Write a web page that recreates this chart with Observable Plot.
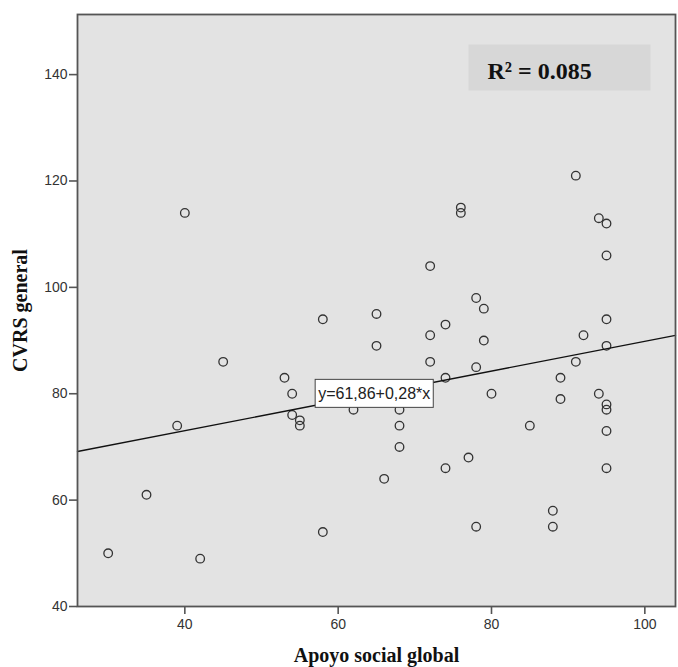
<!DOCTYPE html>
<html><head><meta charset="utf-8">
<script src="https://cdn.jsdelivr.net/npm/d3@7"></script>
<script src="https://cdn.jsdelivr.net/npm/@observablehq/plot@0.6"></script>
<style>body{margin:0;background:#fff} #chart svg{display:block}</style>
</head><body><div id="chart"></div>
<script>
// Data
const apoyoSocial = [30,35,39,40,42,45,53,54,54,55,55,58,58,62,65,65,66,68,68,68,72,72,72,74,74,74,76,76,77,78,78,78,79,79,80,85,88,88,89,89,91,91,92,94,94,95,95,95,95,95,95,95,95];
const cvrsGeneral = [50,61,74,114,49,86,83,80,76,75,74,94,54,77,95,89,64,77,74,70,104,91,86,93,83,66,115,114,68,98,85,55,96,90,80,74,58,55,83,79,121,86,91,113,80,112,106,94,89,78,77,73,66];
const xTicks = [40, 60, 80, 100];
const yTicks = [40, 60, 80, 100, 120, 140];
const xDomain = [26, 104];
const yDomain = [40, 151.3];
const intercept = 61.86;
const slope = 0.28;
const eqLabel = "y=61,86+0,28*x";
const eqAnchor = {x: 57, y: 80};
const r2Label = "R² = 0.085";
const xLabel = "Apoyo social global";
const yLabel = "CVRS general";

const points = apoyoSocial.map((x, i) => ({x, y: cvrsGeneral[i]}));
const regLine = xDomain.map(x => ({x, y: intercept + slope * x}));

const serif = "'Liberation Serif', 'Times New Roman', serif";

const chart = Plot.plot({
  width: 678, height: 667,
  marginLeft: 77, marginTop: 14, marginRight: 3, marginBottom: 61,
  style: {fontFamily: "'Liberation Sans', Arial, sans-serif", fontSize: "14px", color: "#333", background: "#fff"},
  x: {domain: xDomain, label: null},
  y: {domain: yDomain, label: null},
  marks: [
    Plot.frame({fill: "#e3e3e3"}),
    Plot.axisX({ticks: xTicks, tickSize: 8, tickPadding: 5, label: null, stroke: "#555", strokeWidth: 1.6, fill: "#333"}),
    Plot.axisY({ticks: yTicks, tickSize: 8, tickPadding: 2, label: null, stroke: "#555", strokeWidth: 1.6, fill: "#333"}),
    Plot.dot(points, {x: "x", y: "y", r: 4.3, stroke: "#333", strokeWidth: 1.3, fill: "none"}),
    Plot.line(regLine, {x: "x", y: "y", stroke: "#111", strokeWidth: 1.3}),
    Plot.frame({stroke: "#555", strokeWidth: 1.8}),
    Plot.text([eqLabel], {x: () => eqAnchor.x, y: () => eqAnchor.y, text: d => d, textAnchor: "start", lineAnchor: "middle", dx: 3, fontSize: 16, fill: "#222"}),
    Plot.text([r2Label], {frameAnchor: "top-left", text: d => d, dx: 410, dy: 64, textAnchor: "start", lineAnchor: "bottom", fontFamily: serif, fontWeight: "bold", fontSize: 24, fill: "#111"}),
    Plot.text([xLabel], {frameAnchor: "bottom", text: d => d, dy: 55, lineAnchor: "bottom", fontFamily: serif, fontWeight: "bold", fontSize: 20, fill: "#111"}),
    Plot.text([yLabel], {frameAnchor: "left", text: d => d, dx: -56.5, rotate: -90, lineAnchor: "middle", textAnchor: "middle", fontFamily: serif, fontWeight: "bold", fontSize: 20, fill: "#111"})
  ]
});
document.getElementById("chart").append(chart);

// Boxes behind the annotation labels (same local coordinate system as the text)
const svg = d3.select(chart);
svg.selectAll("text").each(function() {
  const t = this.textContent;
  if (t !== eqLabel && t !== r2Label) return;
  const b = this.getBBox();
  const cy = b.y + b.height / 2;
  const rect = d3.select(this.parentNode).insert("rect", () => this)
    .attr("transform", this.getAttribute("transform"));
  if (t === eqLabel) {
    rect.attr("x", b.x - 3).attr("y", cy - 14).attr("width", b.width + 6).attr("height", 28)
      .attr("fill", "#fff").attr("stroke", "#444").attr("stroke-width", 1);
  } else {
    rect.attr("x", b.x - 19).attr("y", cy - 26).attr("width", 182).attr("height", 46)
      .attr("fill", "#d7d7d7");
  }
});
</script>
</body></html>
